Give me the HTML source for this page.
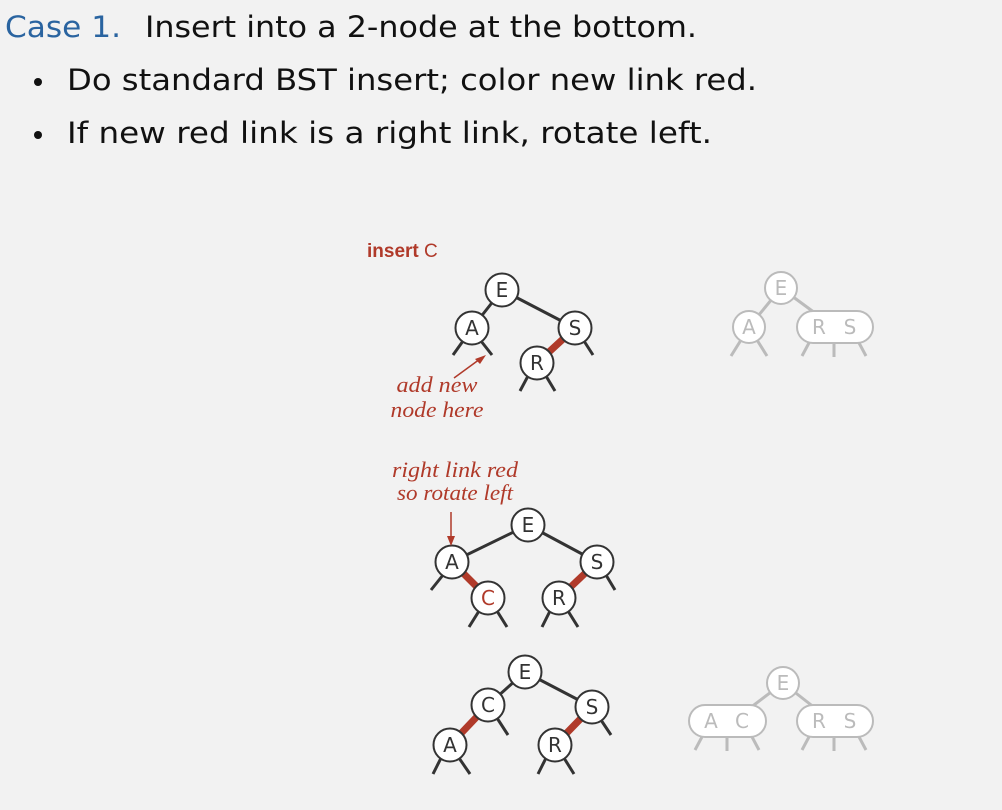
<!DOCTYPE html>
<html><head><meta charset="utf-8"><style>
html,body{margin:0;padding:0;background:#f2f2f2;}
svg{display:block;}
.h{font-family:"DejaVu Sans","Liberation Sans",sans-serif;font-size:29px;fill:#111;}
.n{font-family:"DejaVu Sans","Liberation Sans",sans-serif;font-size:20px;fill:#333;text-anchor:middle;}
.g{font-family:"DejaVu Sans","Liberation Sans",sans-serif;font-size:20px;fill:#bbb;text-anchor:middle;}
.it{font-family:"Liberation Serif",serif;font-style:italic;font-size:22px;fill:#b03a2a;text-anchor:middle;}
</style></head><body>
<svg width="1002" height="810" viewBox="0 0 1002 810">
<rect width="1002" height="810" fill="#f2f2f2"/>
<text x="5" y="37" class="h" style="fill:#2a64a0" textLength="116" lengthAdjust="spacingAndGlyphs">Case 1.</text>
<text x="145" y="37" class="h" textLength="552" lengthAdjust="spacingAndGlyphs">Insert into a 2-node at the bottom.</text>
<circle cx="38" cy="82" r="4" fill="#111"/>
<text x="67" y="90" class="h" textLength="690" lengthAdjust="spacingAndGlyphs">Do standard BST insert; color new link red.</text>
<circle cx="38" cy="135" r="4" fill="#111"/>
<text x="67" y="143" class="h" textLength="645" lengthAdjust="spacingAndGlyphs">If new red link is a right link, rotate left.</text>

<text x="367" y="257" font-family="Liberation Sans,sans-serif" font-size="19" fill="#b03a2a"><tspan font-weight="bold">insert</tspan> C</text>

<g stroke="#333" stroke-width="3" stroke-linecap="butt">
<line x1="502" y1="290" x2="472" y2="328"/><line x1="502" y1="290" x2="575" y2="328"/>
<line x1="463" y1="341" x2="453" y2="355"/><line x1="481" y1="341" x2="492" y2="355"/>
<line x1="584" y1="341" x2="593" y2="355"/>
<line x1="528" y1="376" x2="520" y2="391"/><line x1="546" y1="376" x2="555" y2="391"/>
<line x1="528" y1="525" x2="452" y2="562"/><line x1="528" y1="525" x2="597" y2="562"/>
<line x1="443" y1="575" x2="431" y2="590"/>
<line x1="606" y1="575" x2="615" y2="590"/>
<line x1="479" y1="611" x2="469" y2="627"/><line x1="497" y1="611" x2="507" y2="627"/>
<line x1="550" y1="611" x2="542" y2="627"/><line x1="568" y1="611" x2="578" y2="627"/>
<line x1="525" y1="672" x2="488" y2="705"/><line x1="525" y1="672" x2="592" y2="707"/>
<line x1="497" y1="718" x2="508" y2="735"/>
<line x1="601" y1="720" x2="611" y2="735"/>
<line x1="441" y1="758" x2="433" y2="774"/><line x1="459" y1="758" x2="470" y2="774"/>
<line x1="546" y1="758" x2="538" y2="774"/><line x1="564" y1="758" x2="574" y2="774"/>
</g>
<g stroke="#b03a2a" stroke-width="7">
<line x1="575" y1="328" x2="537" y2="363"/>
<line x1="452" y1="562" x2="488" y2="598"/>
<line x1="597" y1="562" x2="559" y2="598"/>
<line x1="488" y1="705" x2="450" y2="745"/>
<line x1="592" y1="707" x2="555" y2="745"/>
</g>
<g fill="#fff" stroke="#333" stroke-width="2">
<circle cx="502" cy="290" r="16.5"/><circle cx="472" cy="328" r="16.5"/><circle cx="575" cy="328" r="16.5"/><circle cx="537" cy="363" r="16.5"/>
<circle cx="528" cy="525" r="16.5"/><circle cx="452" cy="562" r="16.5"/><circle cx="597" cy="562" r="16.5"/><circle cx="488" cy="598" r="16.5"/><circle cx="559" cy="598" r="16.5"/>
<circle cx="525" cy="672" r="16.5"/><circle cx="488" cy="705" r="16.5"/><circle cx="592" cy="707" r="16.5"/><circle cx="450" cy="745" r="16.5"/><circle cx="555" cy="745" r="16.5"/>
</g>
<text class="n" x="502" y="297">E</text><text class="n" x="472" y="335">A</text><text class="n" x="575" y="335">S</text><text class="n" x="537" y="370">R</text>
<text class="n" x="528" y="532">E</text><text class="n" x="452" y="569">A</text><text class="n" x="597" y="569">S</text><text class="n" x="488" y="605" style="fill:#b03a2a">C</text><text class="n" x="559" y="605">R</text>
<text class="n" x="525" y="679">E</text><text class="n" x="488" y="712">C</text><text class="n" x="592" y="714">S</text><text class="n" x="450" y="752">A</text><text class="n" x="555" y="752">R</text>

<line x1="454" y1="378" x2="480" y2="359" stroke="#b03a2a" stroke-width="1.5"/>
<polygon points="486,355 475,359 480,364" fill="#b03a2a"/>
<text class="it" x="437" y="392" textLength="81" lengthAdjust="spacingAndGlyphs">add new</text>
<text class="it" x="437" y="417" textLength="93" lengthAdjust="spacingAndGlyphs">node here</text>
<text class="it" x="455" y="477" textLength="126" lengthAdjust="spacingAndGlyphs">right link red</text>
<text class="it" x="455" y="500" textLength="116" lengthAdjust="spacingAndGlyphs">so rotate left</text>
<line x1="451" y1="512" x2="451" y2="540" stroke="#b03a2a" stroke-width="1.5"/>
<polygon points="451,546 447,536 455,536" fill="#b03a2a"/>

<g stroke="#bbb" stroke-width="3">
<line x1="781" y1="288" x2="749" y2="327"/><line x1="781" y1="288" x2="815" y2="313"/>
<line x1="741" y1="340" x2="731" y2="356"/><line x1="757" y1="340" x2="767" y2="356"/>
<line x1="810" y1="341" x2="802" y2="356"/><line x1="834" y1="343" x2="834" y2="357"/><line x1="858" y1="341" x2="866" y2="356"/>
<line x1="783" y1="683" x2="750" y2="708"/><line x1="783" y1="683" x2="815" y2="708"/>
<line x1="703" y1="735" x2="695" y2="750"/><line x1="727" y1="737" x2="727" y2="751"/><line x1="751" y1="735" x2="759" y2="750"/>
<line x1="810" y1="735" x2="802" y2="750"/><line x1="834" y1="737" x2="834" y2="751"/><line x1="858" y1="735" x2="866" y2="750"/>
</g>
<g fill="#fff" stroke="#bbb" stroke-width="2">
<circle cx="781" cy="288" r="16"/><circle cx="749" cy="327" r="16"/>
<rect x="797" y="311" width="76" height="32" rx="16"/>
<circle cx="783" cy="683" r="16"/>
<rect x="689" y="705" width="77" height="32" rx="16"/>
<rect x="797" y="705" width="76" height="32" rx="16"/>
</g>
<text class="g" x="781" y="295">E</text><text class="g" x="749" y="334">A</text>
<text class="g" x="819" y="334">R</text><text class="g" x="850" y="334">S</text>
<text class="g" x="783" y="690">E</text>
<text class="g" x="711" y="728">A</text><text class="g" x="742" y="728">C</text>
<text class="g" x="819" y="728">R</text><text class="g" x="850" y="728">S</text>
</svg>
</body></html>
